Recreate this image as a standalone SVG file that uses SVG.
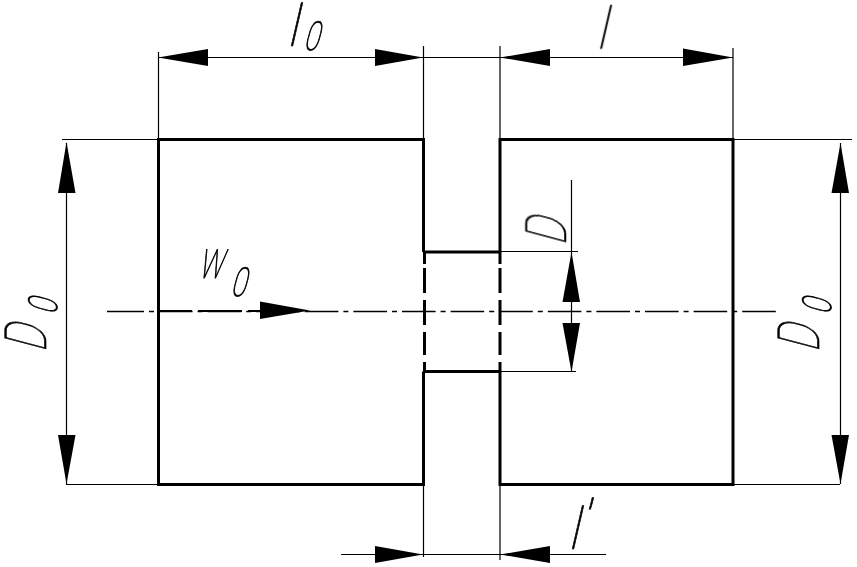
<svg xmlns="http://www.w3.org/2000/svg" width="857" height="567" viewBox="0 0 857 567">
<style>
.thin{stroke:#000;stroke-width:1.2;fill:none}
.thick{stroke:#000;stroke-width:3;fill:none}
.axis{stroke:#000;stroke-width:1.3;fill:none;stroke-dasharray:5 5 33.6 5}
.neck{stroke:#000;stroke-width:3;fill:none;stroke-dasharray:12 4 25 7 25 7 23 7 12}
.arrow{fill:#000;stroke:none}
.big{font-family:"Roboto","Liberation Sans",sans-serif;font-weight:100;font-size:58px;fill:#000;stroke:#000;stroke-width:.7}
.small{font-family:"Roboto","Liberation Sans",sans-serif;font-weight:100;font-size:40px;fill:#000;stroke:#000;stroke-width:.9}
#labels{opacity:.99}
</style>
<rect width="857" height="567" fill="#fff"/>
<g id="body">
<path class="thick" d="M423.500 252V139.500H158.500V484.500H423.500V371.500"/>
<path class="thick" d="M500 252V139.500H733V484.500H500V371.500"/>
<path class="thick" d="M423.500 252H500M423.500 371.500H500"/>
<path class="neck" d="M424.500 252V371.500M500 252V371.500"/>
</g>
<g id="connectors">
<path stroke="#000" stroke-width="1.300" fill="none" d="M107 311.500H144"/>
<path class="axis" d="M149 311.500H780"/>
<path stroke="#000" stroke-width="2" fill="none" d="M158 311H192M198 311H242M248 311H260"/>
<path class="thin" d="M158.500 52V139M423.500 46V139M500 46V139M733 48V139M423.500 484V557M500 484V560"/>
<path class="thin" d="M62 139.500H158M733 139.500H852M66 484.500H158M733 484.500H840M500 251.500H578M500 371.500H576"/>
<path class="thin" d="M158 57.500H733M66.500 143V484M840.500 143V484M571.500 180V372M341 554.500H606"/>
<path class="arrow" d="M158 57.500L208 49V66ZM423 57.500L375 49V66ZM500 57.500L550 49V66ZM733 57.500L683 48.500V66Z"/>
<path class="arrow" d="M66.500 142L58 193H75.500ZM66.500 484L58 435H75.500ZM840.500 143L831.500 193H849ZM840.500 484L831.500 435H849Z"/>
<path class="arrow" d="M571.500 252L562.500 302H580ZM571.500 372L562.500 323H580Z"/>
<path class="arrow" d="M310 310.500L260 301.500V319Z"/>
<path class="arrow" d="M423 554.500L375 546V563ZM500 554.500L550 546V563Z"/>
</g>
<g id="labels">
<text class="big" transform="translate(286 46) skewX(-13)">l</text>
<text class="small" transform="translate(303 50) skewX(-15) scale(.7 1)">0</text>
<text class="big" transform="translate(595 49) skewX(-13)">l</text>
<text class="small" transform="translate(198 278) skewX(-15) scale(.65 1)">W</text>
<text class="small" transform="translate(230 296) skewX(-15) scale(.7 1)">0</text>
<text class="big" transform="translate(46 353) rotate(-90) skewX(-15) scale(.7 1)">D</text>
<text class="small" transform="translate(57 315) rotate(-90) skewX(-15) scale(.7 1)">0</text>
<text class="big" transform="translate(819 353) rotate(-90) skewX(-15) scale(.7 1)">D</text>
<text class="small" transform="translate(831 315) rotate(-90) skewX(-15) scale(.7 1)">0</text>
<text class="big" transform="translate(566 246) rotate(-90) skewX(-15) scale(.7 1)">D</text>
<text class="big" transform="translate(567 549) skewX(-13)">l</text>
<text class="big" transform="translate(578 541) skewX(-13)">'</text>
</g>
</svg>
